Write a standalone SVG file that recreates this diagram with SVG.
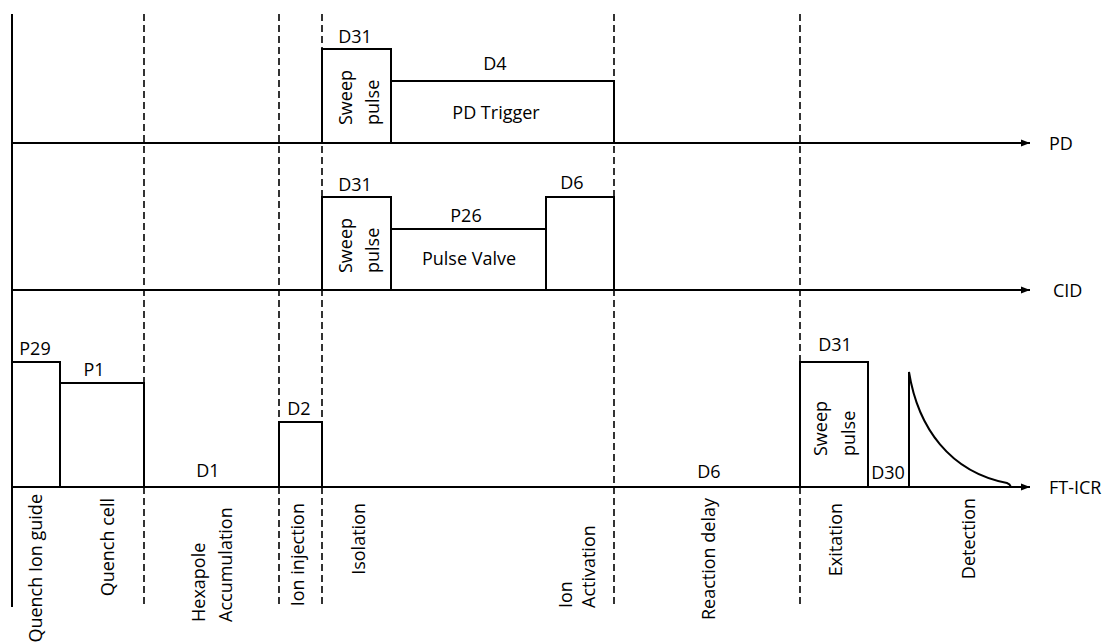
<svg xmlns="http://www.w3.org/2000/svg" width="1106" height="644" viewBox="0 0 1106 644">
<style>
text{font-family:"Open Sans","Liberation Sans",sans-serif;font-size:18px;fill:#000}
.ax{stroke:#000;stroke-width:2;fill:none}
.dash{stroke:#000;stroke-width:1.6;stroke-dasharray:7,4;fill:none}
.box{stroke:#000;stroke-width:2;fill:none}
.c{text-anchor:middle}
.e{text-anchor:end}
</style>
<defs>
<marker id="arr" markerWidth="10" markerHeight="8" refX="9" refY="4" orient="auto" markerUnits="userSpaceOnUse">
<path d="M0,0.5 L9,4 L0,7.5 Z" fill="#000"/>
</marker>
</defs>
<rect width="1106" height="644" fill="#fff"/>
<g id="connectors">
<line class="ax" x1="12" y1="14" x2="12" y2="607"/>
<line class="dash" x1="144" y1="14" x2="144" y2="607"/>
<line class="dash" x1="279" y1="14" x2="279" y2="607"/>
<line class="dash" x1="322" y1="14" x2="322" y2="607"/>
<line class="dash" x1="614" y1="14" x2="614" y2="607"/>
<line class="dash" x1="800" y1="14" x2="800" y2="607"/>
<line class="ax" x1="12" y1="143" x2="1030" y2="143" marker-end="url(#arr)"/>
<line class="ax" x1="12" y1="290" x2="1030" y2="290" marker-end="url(#arr)"/>
<line class="ax" x1="12" y1="487" x2="1030" y2="487" marker-end="url(#arr)"/>
</g>
<g id="axis-labels">
<text x="1049" y="150">PD</text>
<text x="1053" y="297">CID</text>
<text x="1049" y="494">FT-ICR</text>
</g>
<g id="pd-row">
<g id="pd-d31">
<path class="box" d="M322,143 V49 H391 V143"/>
<text class="c" x="355" y="43">D31</text>
<text transform="translate(352,125) rotate(-90)">Sweep</text>
<text transform="translate(379,125) rotate(-90)">pulse</text>
</g>
<g id="pd-d4">
<path class="box" d="M391,143 V81 H614 V143"/>
<text class="c" x="495" y="70">D4</text>
<text class="c" x="496" y="119">PD Trigger</text>
</g>
</g>
<g id="cid-row">
<g id="cid-d31">
<path class="box" d="M322,290 V197 H391 V290"/>
<text class="c" x="355" y="191">D31</text>
<text transform="translate(352,273) rotate(-90)">Sweep</text>
<text transform="translate(379,273) rotate(-90)">pulse</text>
</g>
<g id="cid-p26">
<path class="box" d="M391,290 V229 H546 V290"/>
<text class="c" x="466" y="222">P26</text>
<text class="c" x="469" y="265">Pulse Valve</text>
</g>
<g id="cid-d6">
<path class="box" d="M546,290 V197 H614 V290"/>
<text class="c" x="572" y="189">D6</text>
</g>
</g>
<g id="fticr-row">
<g id="p29">
<path class="box" d="M12,487 V362 H60 V487"/>
<text class="c" x="35" y="355">P29</text>
</g>
<g id="p1">
<path class="box" d="M60,487 V383 H144 V487"/>
<text class="c" x="94" y="376">P1</text>
</g>
<g id="d1"><text class="c" x="208" y="477">D1</text></g>
<g id="d2">
<path class="box" d="M279,487 V422 H322 V487"/>
<text class="c" x="299" y="415">D2</text>
</g>
<g id="d6"><text class="c" x="709" y="478">D6</text></g>
<g id="ft-d31">
<path class="box" d="M800,487 V362 H868 V487"/>
<text class="c" x="835" y="351">D31</text>
<text transform="translate(827,456) rotate(-90)">Sweep</text>
<text transform="translate(855,456) rotate(-90)">pulse</text>
</g>
<g id="d30"><text class="c" x="888" y="479">D30</text></g>
<g id="detection-signal">
<path class="box" d="M909,487 V372 C918,428 950,472 1007,483 Q1010,484 1011,487"/>
</g>
</g>
<g id="phase-labels">
<text class="e" transform="translate(42,494) rotate(-90)">Quench Ion guide</text>
<text class="e" transform="translate(114,498) rotate(-90)">Quench cell</text>
<text transform="translate(205,622) rotate(-90)">Hexapole</text>
<text transform="translate(232,622) rotate(-90)">Accumulation</text>
<text class="e" transform="translate(304,503) rotate(-90)">Ion injection</text>
<text class="e" transform="translate(365,503) rotate(-90)">Isolation</text>
<text transform="translate(572,608) rotate(-90)">Ion</text>
<text transform="translate(595,608) rotate(-90)">Activation</text>
<text class="e" transform="translate(715,498) rotate(-90)">Reaction delay</text>
<text class="e" transform="translate(842,503) rotate(-90)">Exitation</text>
<text class="e" transform="translate(975,498) rotate(-90)">Detection</text>
</g>
</svg>
